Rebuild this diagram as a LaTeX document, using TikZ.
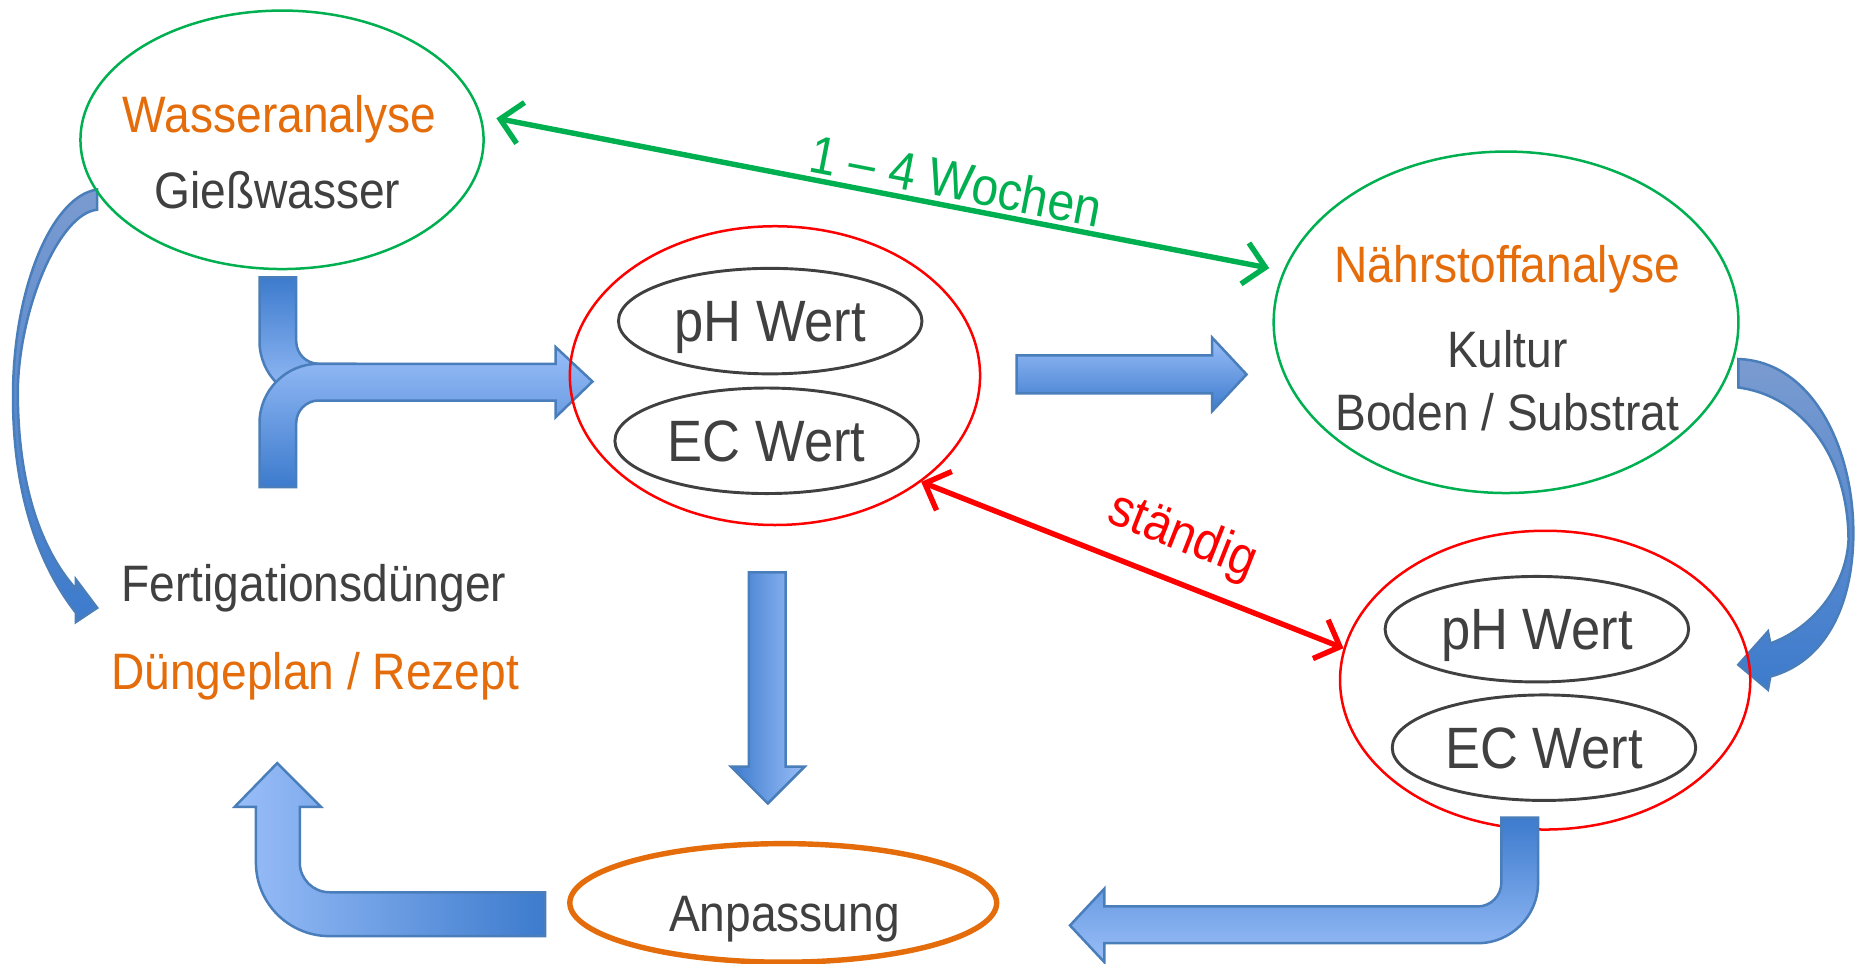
\documentclass[tikz,border=0pt]{standalone}
\usepackage{fontspec}
\setmainfont{Liberation Sans}[FakeStretch=0.9]
\usepackage{xcolor}
\usepackage{tikz}
\usetikzlibrary{arrows.meta, shapes.geometric, positioning}

\definecolor{txtorange}{HTML}{E46C0A}
\definecolor{txtgray}{HTML}{404040}
\definecolor{linegreen}{HTML}{00B050}
\definecolor{bluelight}{HTML}{99BEF8}
\definecolor{bluedark}{HTML}{3D7BCD}
\definecolor{bluegray}{HTML}{7A9BD0}
\definecolor{blueedge}{HTML}{4A7EBB}

\begin{document}
\begin{tikzpicture}[x=0.01cm, y=-0.01cm,
    txt/.style={text=txtgray, font=\fontsize{12.3}{15}\selectfont, inner sep=0pt, anchor=base},
    titel/.style={txt, text=txtorange},
    lbl/.style={font=\fontsize{12.8}{15}\selectfont, inner sep=1pt},
    kreis/.style={ellipse, inner sep=0pt, line width=0.6pt},
    wert/.style={ellipse, draw=txtgray, line width=0.7pt, inner sep=0pt, text=txtgray,
        font=\fontsize{14}{16}\selectfont, text depth=0pt, minimum width=2.56cm, minimum height=0.89cm},
    pfeil/.style={draw=blueedge, line width=0.6pt},
    dauer/.style={line width=1.3pt, {Straight Barb[length=5pt,width=10pt]}-{Straight Barb[length=5pt,width=10pt]}}]
    \path[fill=white] (0,0) rectangle (1568,813);
    \useasboundingbox (0,0) rectangle (1568,813);

    % gebogene Pfeile
    \shadedraw[pfeil, top color=bluegray, bottom color=bluedark] (82,160) .. controls (45,165) and (12,240) .. (11,330)
        .. controls (10,420) and (35,480) .. (64,517) -- (64,525) -- (82,513) -- (64,489) -- (64,497)
        .. controls (40,470) and (15,420) .. (15,330) .. controls (16,260) and (50,180) .. (82,177) -- cycle;
    \shadedraw[pfeil, top color=bluegray, bottom color=bluedark] (1467,303) .. controls (1530,305) and (1566,380) .. (1564,456)
        .. controls (1562,520) and (1535,560) .. (1494,571) -- (1492,582) -- (1467,561) -- (1492,533) -- (1494,543)
        .. controls (1530,530) and (1558,495) .. (1560,456) .. controls (1560,390) and (1525,335) .. (1467,327) -- cycle;

    % Blockpfeile
    \shadedraw[pfeil, top color=bluedark, bottom color=bluelight] (219,234) -- (219,288) arc[start angle=180, end angle=90, radius=50]
        -- (300,338) -- (300,307) -- (269,307) arc[start angle=90, end angle=180, radius=19] -- (250,234) -- cycle;
    \shadedraw[pfeil, top color=bluelight, bottom color=bluedark] (219,411) -- (219,357) arc[start angle=180, end angle=270, radius=50]
        -- (469,307) -- (469,293) -- (500,322) -- (469,352) -- (469,338) -- (269,338)
        arc[start angle=270, end angle=180, radius=19] -- (250,411) -- cycle;
    \shadedraw[pfeil, top color=bluelight, bottom color=bluedark] (858,300) -- (1023,300) -- (1023,285) -- (1052,316)
        -- (1023,347) -- (1023,332) -- (858,332) -- cycle;
    \shadedraw[pfeil, left color=bluedark, right color=bluelight] (632,483) -- (663,483) -- (663,647) -- (679,647)
        -- (648,678) -- (617,647) -- (632,647) -- cycle;
    \shadedraw[pfeil, left color=bluelight, right color=bluedark] (460,753) -- (278,753) arc[start angle=90, end angle=180, radius=25]
        -- (253,681) -- (271,681) -- (234,644) -- (198,681) -- (216,681) -- (216,728)
        arc[start angle=180, end angle=90, radius=62] -- (460,790) -- cycle;

    % Analysen
    \node[kreis, draw=linegreen, minimum width=3.4cm, minimum height=2.18cm] (wasser) at (238,118) {};
    \node[titel] (wasserT) at (236,112) {Wasseranalyse};
    \node[txt] (giess) at (234,176) {Gießwasser};

    \node[kreis, draw=red, minimum width=3.46cm, minimum height=2.52cm] (mitte) at (654,317) {};
    \node[wert] (ph1) at (650,271) {pH Wert};
    \node[wert] (ec1) at (647,372) {EC Wert};

    \node[kreis, draw=linegreen, minimum width=3.92cm, minimum height=2.88cm] (naehr) at (1271,272) {};
    \node[titel] (naehrT) at (1272,238) {Nährstoffanalyse};
    \node[txt] (kultur) at (1272,310) {Kultur};
    \node[txt] (boden) at (1272,363) {Boden / Substrat};

    \node[kreis, draw=red, minimum width=3.46cm, minimum height=2.52cm] (rechts) at (1304,574) {};
    \node[wert] (ph2) at (1297,531) {pH Wert};
    \node[wert] (ec2) at (1303,631) {EC Wert};

    \node[txt] (fert) at (265,508) {Fertigationsdünger};
    \node[titel] (plan) at (266,582) {Düngeplan / Rezept};

    \node[kreis, draw=txtorange, line width=1.3pt, minimum width=3.6cm, minimum height=1cm] (anpassung) at (661,762) {};
    \node[txt] (anpT) at (662,786) {Anpassung};

    \shadedraw[pfeil, top color=bluedark, bottom color=bluelight] (1267,690) -- (1267,745) arc[start angle=0, end angle=90, radius=20]
        -- (932,765) -- (932,750) -- (903,781) -- (932,812) -- (932,796) -- (1247,796)
        arc[start angle=90, end angle=0, radius=51] -- (1298,690) -- cycle;

    % Intervalle
    \draw[dauer, linegreen, shorten <=1.3mm, shorten >=1.2mm] (wasser.7) --
        node[lbl, text=linegreen, sloped, above, pos=0.586] (wochen) {1 – 4 Wochen} (naehr.167);
    \draw[dauer, red] (mitte.-36) --
        node[lbl, text=red, sloped, above=3pt, pos=0.58] (staendig) {ständig} (rechts.171);
\end{tikzpicture}
\end{document}
